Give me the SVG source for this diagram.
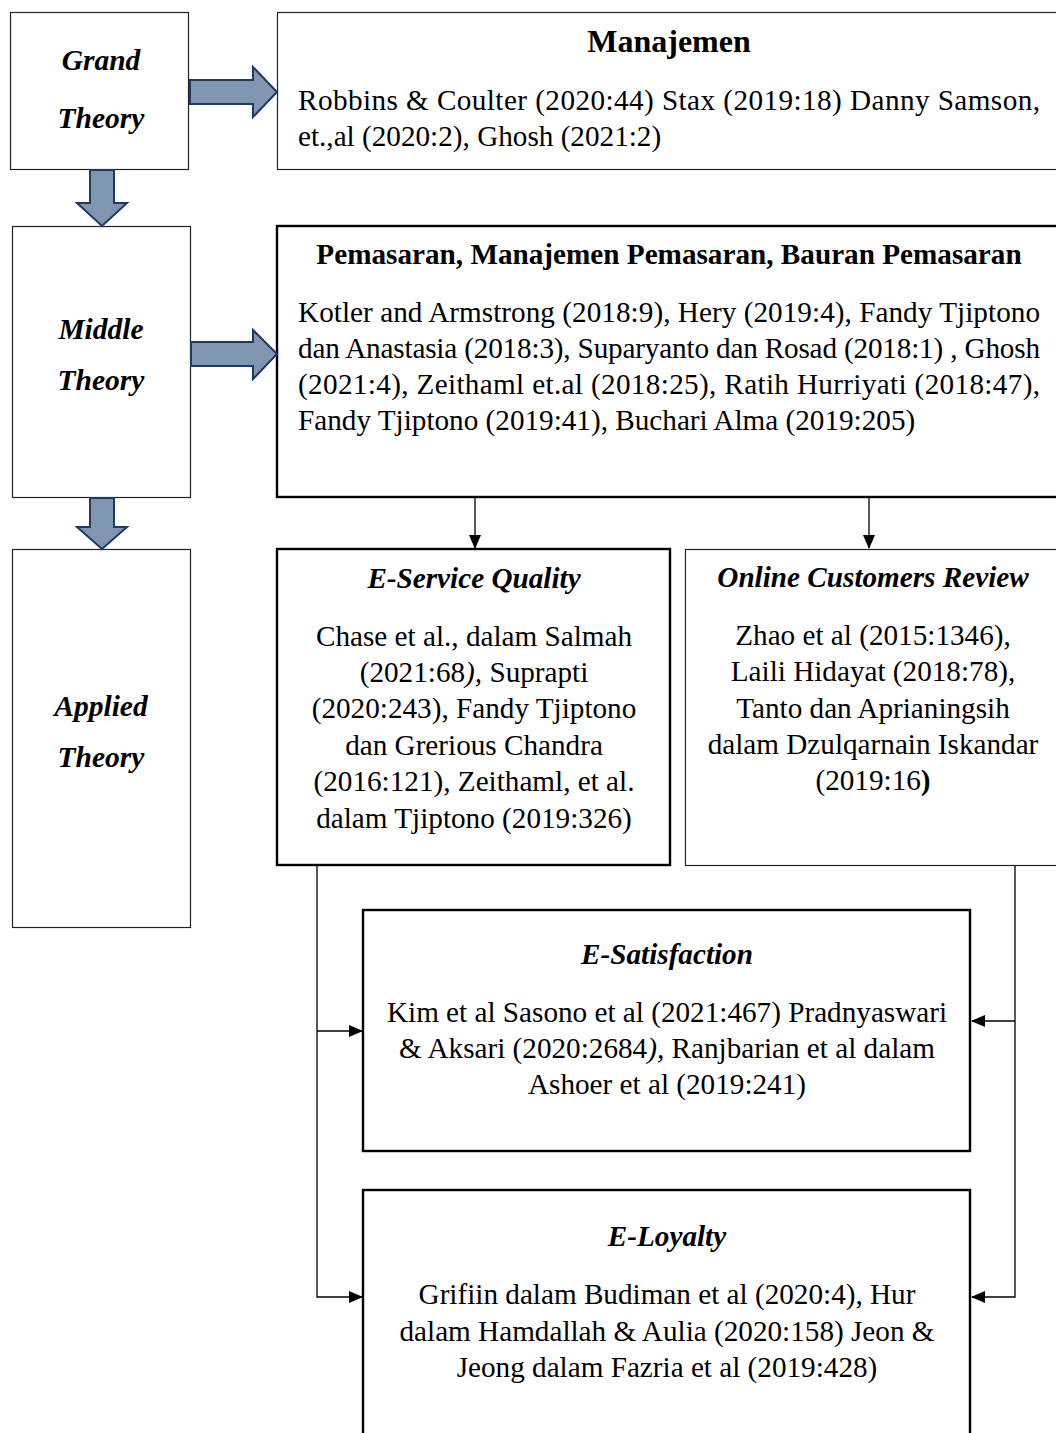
<svg xmlns="http://www.w3.org/2000/svg" width="1056" height="1433" viewBox="0 0 1056 1433">
<defs>
<style>
text{font-family:"Liberation Serif","Times New Roman",serif;font-size:29.2px;fill:#000}
.t{font-weight:bold}
.big{font-size:32px}
.bi{font-weight:bold;font-style:italic}
.lt{font-weight:bold;font-style:italic;font-size:29.5px}
.c{text-anchor:middle}
.thin{fill:#fff;stroke:#222;stroke-width:1.2}
.thick{fill:#fff;stroke:#000;stroke-width:2.4}
.blk{fill:#8096B0;stroke:#1F3864;stroke-width:2;stroke-linejoin:miter}
.conn{fill:none;stroke:#000;stroke-width:1.3}
</style>
<marker id="ah" markerWidth="14" markerHeight="12" refX="13" refY="6" orient="auto" markerUnits="userSpaceOnUse">
<path d="M0,0 L14,6 L0,12 Z" fill="#000"/>
</marker>
</defs>
<rect width="1056" height="1433" fill="#fff"/>

<g id="grand-theory">
<rect class="thin" x="10.5" y="12.5" width="178" height="157"/>
<text class="lt c" x="101" y="70">Grand</text>
<text class="lt c" x="101" y="128">Theory</text>
</g>
<g id="middle-theory">
<rect class="thin" x="12.5" y="226.5" width="178" height="271"/>
<text class="lt c" x="101" y="339">Middle</text>
<text class="lt c" x="101" y="390">Theory</text>
</g>
<g id="applied-theory">
<rect class="thin" x="12.5" y="549.5" width="178" height="378"/>
<text class="lt c" x="101" y="716">Applied</text>
<text class="lt c" x="101" y="767">Theory</text>
</g>

<g id="manajemen">
<rect class="thin" x="277.5" y="12.5" width="790" height="157"/>
<text class="t big c" x="669" y="52">Manajemen</text>
<text x="298" y="110" textLength="742" lengthAdjust="spacing">Robbins &amp; Coulter (2020:44) Stax (2019:18) Danny Samson,</text>
<text x="298" y="146">et.,al (2020:2), Ghosh (2021:2)</text>
</g>

<g id="pemasaran">
<rect class="thick" x="277" y="226" width="790" height="271"/>
<text class="t c" x="669" y="264">Pemasaran, Manajemen Pemasaran, Bauran Pemasaran</text>
<text x="298" y="322" textLength="742" lengthAdjust="spacing">Kotler and Armstrong (2018:9), Hery (2019:4), Fandy Tjiptono</text>
<text x="298" y="358" textLength="742" lengthAdjust="spacing">dan Anastasia (2018:3), Suparyanto dan Rosad (2018:1) , Ghosh</text>
<text x="298" y="394" textLength="742" lengthAdjust="spacing">(2021:4), Zeithaml et.al (2018:25), Ratih Hurriyati (2018:47),</text>
<text x="298" y="430">Fandy Tjiptono (2019:41), Buchari Alma (2019:205)</text>
</g>

<g id="e-service-quality">
<rect class="thick" x="277" y="549" width="393" height="316"/>
<text class="bi c" x="474" y="588">E-Service Quality</text>
<text class="c" x="474" y="646">Chase et al., dalam Salmah</text>
<text class="c" x="474" y="682">(2021:68<tspan font-style="italic">),</tspan> Suprapti</text>
<text class="c" x="474" y="718">(2020:243), Fandy Tjiptono</text>
<text class="c" x="474" y="755">dan Grerious Chandra</text>
<text class="c" x="474" y="791">(2016:121), Zeithaml, et al.</text>
<text class="c" x="474" y="828">dalam Tjiptono (2019:326)</text>
</g>

<g id="online-customers-review">
<rect class="thin" x="685.5" y="549.5" width="390" height="316"/>
<text class="bi c" x="873" y="587">Online Customers Review</text>
<text class="c" x="873" y="645">Zhao et al (2015:1346),</text>
<text class="c" x="873" y="681">Laili Hidayat (2018:78),</text>
<text class="c" x="873" y="718">Tanto dan Aprianingsih</text>
<text class="c" x="873" y="754">dalam Dzulqarnain Iskandar</text>
<text class="c" x="873" y="790">(2019:16<tspan font-weight="bold">)</tspan></text>
</g>

<g id="e-satisfaction">
<rect class="thick" x="363" y="910" width="607" height="241"/>
<text class="bi c" x="667" y="964">E-Satisfaction</text>
<text class="c" x="667" y="1022">Kim et al Sasono et al (2021:467) Pradnyaswari</text>
<text class="c" x="667" y="1058">&amp; Aksari (2020:2684<tspan font-style="italic">),</tspan> Ranjbarian et al dalam</text>
<text class="c" x="667" y="1094">Ashoer et al (2019:241)</text>
</g>

<g id="e-loyalty">
<rect class="thick" x="363" y="1190" width="607" height="260"/>
<text class="bi c" x="667" y="1246">E-Loyalty</text>
<text class="c" x="667" y="1304">Grifiin dalam Budiman et al (2020:4), Hur</text>
<text class="c" x="667" y="1341">dalam Hamdallah &amp; Aulia (2020:158) Jeon &amp;</text>
<text class="c" x="667" y="1377">Jeong dalam Fazria et al (2019:428)</text>
</g>

<g id="connectors">
<path class="blk" d="M190,80 H253 V67 L277,92 L253,117 V104 H190 Z"/>
<path class="blk" d="M90,170 H114 V203 H127 L102,226 L77,203 H90 Z"/>
<path class="blk" d="M191,342 H253 V330 L277,354 L253,379 V366 H191 Z"/>
<path class="blk" d="M90,498 H114 V527 H127 L102,549 L77,527 H90 Z"/>
<line class="conn" x1="475" y1="498" x2="475" y2="548" marker-end="url(#ah)"/>
<line class="conn" x1="869" y1="498" x2="869" y2="548" marker-end="url(#ah)"/>
<path class="conn" d="M317,866 V1297 H362" marker-end="url(#ah)"/>
<path class="conn" d="M317,1031 H362" marker-end="url(#ah)"/>
<path class="conn" d="M1015,866 V1297 H972" marker-end="url(#ah)"/>
<path class="conn" d="M1015,1021 H972" marker-end="url(#ah)"/>
</g>
</svg>
